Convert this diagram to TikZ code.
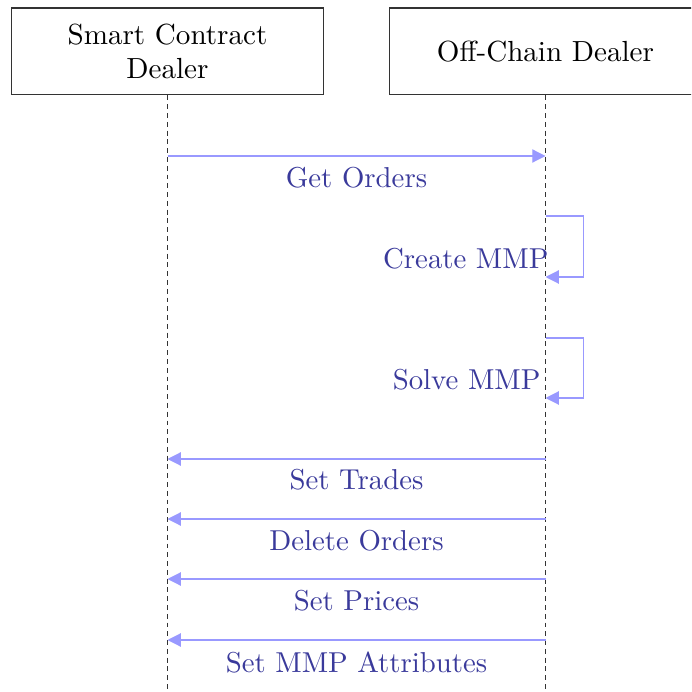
\documentclass[tikz,border=0pt]{standalone}
\usetikzlibrary{arrows.meta}
\definecolor{msgline}{RGB}{153,153,255}
\definecolor{msgtext}{RGB}{58,58,155}
\begin{document}
\begin{tikzpicture}[x=0.3472pt,y=-0.3472pt,
  actor/.style={draw=black!80,line width=0.35pt,minimum width=108pt,minimum height=30.2pt,
    align=center,inner sep=0pt,font=\fontsize{10.1}{11.8}\selectfont},
  life/.style={draw=black!80,line width=0.4pt,dash pattern=on 1.7pt off 1.35pt},
  msg/.style={draw=msgline,line width=0.4pt,-{Triangle[length=4.6pt,width=4.6pt]}},
  lbl/.style={text=msgtext,inner sep=0pt}]
\useasboundingbox (0,0) rectangle (691,692);
\clip (0,0) rectangle (691,692);

% participants
\node[actor] (sc) at (167.5,51.5) {Smart Contract\\Dealer};
\node[actor] (oc) at (545.5,51.5) {Off-Chain Dealer};

% lifelines
\coordinate (scend) at (167.5,694);
\coordinate (ocend) at (545.5,694);
\draw[life] (sc.south) -- (scend);
\draw[life] (oc.south) -- (ocend);

% Get Orders
\coordinate (m1a) at (167.5,156);
\coordinate (m1b) at (545.5,156);
\draw[msg] (m1a) -- (m1b);
\node[lbl] (t1) at (356.5,178) {Get Orders};

% Create MMP (self call)
\coordinate (s1a) at (545.5,216);
\coordinate (s1b) at (545.5,277);
\draw[msg] (s1a) -- ++(38,0) |- (s1b);
\node[lbl,anchor=east] (t2) at (549,259) {Create MMP};

% Solve MMP (self call)
\coordinate (s2a) at (545.5,338);
\coordinate (s2b) at (545.5,398);
\draw[msg] (s2a) -- ++(38,0) |- (s2b);
\node[lbl,anchor=east] (t3) at (541,380) {Solve MMP};

% replies to the contract
\coordinate (m4a) at (545.5,459);
\coordinate (m4b) at (167.5,459);
\draw[msg] (m4a) -- (m4b);
\node[lbl] (t4) at (356.5,480) {Set Trades};

\coordinate (m5a) at (545.5,519);
\coordinate (m5b) at (167.5,519);
\draw[msg] (m5a) -- (m5b);
\node[lbl] (t5) at (356.5,541) {Delete Orders};

\coordinate (m6a) at (545.5,579);
\coordinate (m6b) at (167.5,579);
\draw[msg] (m6a) -- (m6b);
\node[lbl] (t6) at (356.5,601) {Set Prices};

\coordinate (m7a) at (545.5,640);
\coordinate (m7b) at (167.5,640);
\draw[msg] (m7a) -- (m7b);
\node[lbl] (t7) at (356.5,662) {Set MMP Attributes};
\end{tikzpicture}
\end{document}
